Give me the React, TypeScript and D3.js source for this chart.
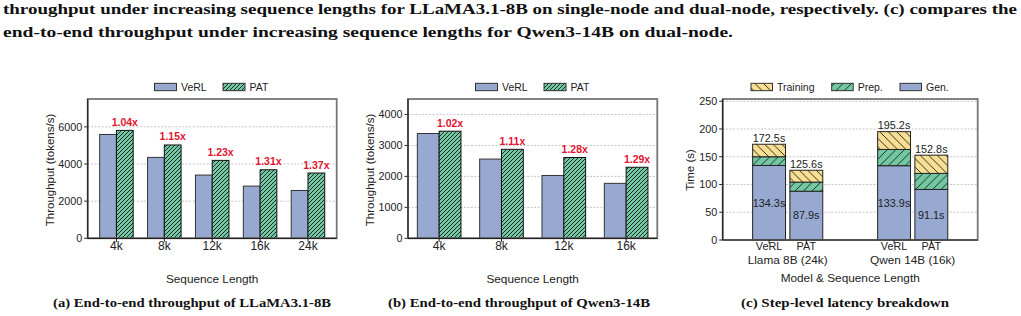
import React, { useEffect, useRef } from "react";
import * as d3 from "d3";

// panel (a): LLaMA3.1-8B, single node
const seqA = ["4k", "8k", "12k", "16k", "24k"];
const verlA = [5590, 4355, 3405, 2810, 2575];
const patA = [5810, 5025, 4195, 3690, 3515];
const speedupA = ["1.04x", "1.15x", "1.23x", "1.31x", "1.37x"];
const yTicksA = [0, 2000, 4000, 6000];

// panel (b): Qwen3-14B, dual node
const seqB = ["4k", "8k", "12k", "16k"];
const verlB = [3385, 2560, 2030, 1775];
const patB = [3460, 2875, 2610, 2295];
const speedupB = ["1.02x", "1.11x", "1.28x", "1.29x"];
const yTicksB = [0, 1000, 2000, 3000, 4000];

// panel (c): step-level latency breakdown
const systemsC = ["VeRL", "PAT", "VeRL", "PAT"];
const modelsC = ["Llama 8B (24k)", "Qwen 14B (16k)"];
const genC = [134.3, 87.9, 133.9, 91.1];
const prepC = [15.7, 16.4, 29.2, 28.9];
const trainC = [22.5, 21.3, 32.1, 32.8];
const totalC = [172.5, 125.6, 195.2, 152.8];
const yTicksC = [0, 50, 100, 150, 200, 250];

const captionLines = [
  "throughput under increasing sequence lengths for LLaMA3.1-8B on single-node and dual-node, respectively. (c) compares the",
  "end-to-end throughput under increasing sequence lengths for Qwen3-14B on dual-node.",
];
const subCaptions = [
  "(a) End-to-end throughput of LLaMA3.1-8B",
  "(b) End-to-end throughput of Qwen3-14B",
  "(c) Step-level latency breakdown",
];

const BLUE = "#97a9d1";
const GREEN = "#72c8a2";
const YELLOW = "#f9df93";
const RED = "#e3132f";
const INK = "#222";
const SANS = "'Liberation Sans', Arial, sans-serif";
const SERIF = "'Liberation Serif', 'DejaVu Serif', serif";

type Sel = d3.Selection<SVGGElement, unknown, null, undefined>;

function frame(g: Sel, x0: number, x1: number, y0: number, y1: number) {
  g.append("rect")
    .attr("x", x0)
    .attr("y", y0)
    .attr("width", x1 - x0)
    .attr("height", y1 - y0)
    .attr("fill", "none")
    .attr("stroke", "#777")
    .attr("stroke-width", 1.8);
  g.append("line").attr("x1", x0).attr("x2", x0).attr("y1", y0).attr("y2", y1)
    .attr("stroke", INK).attr("stroke-width", 1.2);
  g.append("line").attr("x1", x0).attr("x2", x1).attr("y1", y1).attr("y2", y1)
    .attr("stroke", INK).attr("stroke-width", 1.2);
}

function yAxis(
  g: Sel,
  y: d3.ScaleLinear<number, number>,
  ticks: number[],
  x0: number,
  x1: number
) {
  ticks.forEach((t) => {
    if (t > 0) {
      g.append("line")
        .attr("x1", x0).attr("x2", x1)
        .attr("y1", y(t)).attr("y2", y(t))
        .attr("stroke", "#b5b5b5")
        .attr("stroke-width", 0.8)
        .attr("stroke-dasharray", "2,1.5");
    }
    g.append("line")
      .attr("x1", x0 - 3.5).attr("x2", x0)
      .attr("y1", y(t)).attr("y2", y(t))
      .attr("stroke", INK);
    g.append("text")
      .attr("x", x0 - 5.5)
      .attr("y", y(t) + 3.8)
      .attr("text-anchor", "end")
      .attr("font-size", 10.8)
      .attr("fill", INK)
      .text(t);
  });
}

function yTitle(g: Sel, x: number, yc: number, label: string) {
  g.append("text")
    .attr("transform", `translate(${x},${yc}) rotate(-90)`)
    .attr("text-anchor", "middle")
    .attr("dy", "0.35em")
    .attr("font-size", 11.5)
    .attr("fill", INK)
    .text(label);
}

function legend(g: Sel, items: { x: number; w: number; fill: string; label: string }[]) {
  items.forEach((it) => {
    g.append("rect")
      .attr("x", it.x).attr("y", 83.3)
      .attr("width", it.w).attr("height", 7.4)
      .attr("fill", it.fill)
      .attr("stroke", INK)
      .attr("stroke-width", 0.9);
    g.append("text")
      .attr("x", it.x + it.w + 4.5)
      .attr("y", 90.8)
      .attr("font-size", 10.5)
      .attr("fill", INK)
      .text(it.label);
  });
}

function groupedPanel(
  g: Sel,
  cats: string[],
  verl: number[],
  pat: number[],
  speedup: string[],
  ticks: number[],
  yMax: number,
  xr: [number, number],
  pad: number,
  titleX: number,
  legendX: [number, number]
) {
  const top = 99;
  const bottom = 238.3;
  const x = d3.scaleLinear().domain([-pad, cats.length - 1 + pad]).range(xr);
  const y = d3.scaleLinear().domain([0, yMax]).range([bottom, top]);
  const bw = 0.35;
  const px = (v: number) => x(v) - x(0);

  yAxis(g, y, ticks, xr[0], xr[1]);

  g.selectAll(null)
    .data(verl)
    .enter()
    .append("rect")
    .attr("x", (_, i) => x(i - bw))
    .attr("y", (d) => y(d))
    .attr("width", px(bw))
    .attr("height", (d) => bottom - y(d))
    .attr("fill", BLUE)
    .attr("stroke", "#333")
    .attr("stroke-width", 1);

  g.selectAll(null)
    .data(pat)
    .enter()
    .append("rect")
    .attr("x", (_, i) => x(i))
    .attr("y", (d) => y(d))
    .attr("width", px(bw))
    .attr("height", (d) => bottom - y(d))
    .attr("fill", "url(#hatchPat)")
    .attr("stroke", "#111")
    .attr("stroke-width", 1);

  g.selectAll(null)
    .data(pat)
    .enter()
    .append("text")
    .attr("x", (_, i) => x(i + bw / 2))
    .attr("y", (d) => y(d) - 4.5)
    .attr("text-anchor", "middle")
    .attr("font-size", 10.5)
    .attr("font-weight", "bold")
    .attr("fill", RED)
    .text((_, i) => speedup[i]);

  frame(g, xr[0], xr[1], top, bottom);

  cats.forEach((c, i) => {
    g.append("line")
      .attr("x1", x(i)).attr("x2", x(i))
      .attr("y1", bottom).attr("y2", bottom + 3.5)
      .attr("stroke", INK);
    g.append("text")
      .attr("x", x(i))
      .attr("y", 250)
      .attr("text-anchor", "middle")
      .attr("font-size", 12)
      .attr("fill", INK)
      .text(c);
  });

  g.append("text")
    .attr("x", (xr[0] + xr[1]) / 2)
    .attr("y", 282.5)
    .attr("text-anchor", "middle")
    .attr("font-size", 11.8)
    .attr("fill", INK)
    .text("Sequence Length");

  yTitle(g, titleX, 170, "Throughput (tokens/s)");

  legend(g, [
    { x: legendX[0], w: 22, fill: BLUE, label: "VeRL" },
    { x: legendX[1], w: 22, fill: "url(#hatchPat)", label: "PAT" },
  ]);
}

function stackedPanel(g: Sel) {
  const top = 99;
  const bottom = 240;
  const xr: [number, number] = [722.7, 977.7];
  const x = d3.scaleLinear().domain([-0.52, 1.52]).range(xr);
  const y = d3.scaleLinear().domain([0, 254]).range([bottom, top]);
  const centers = [-0.149, 0.149, 0.851, 1.149];
  const bw = 0.263;
  const px = (v: number) => x(v) - x(0);

  yAxis(g, y, yTicksC, xr[0], xr[1]);

  const segs = [
    { vals: genC, base: genC.map(() => 0), fill: BLUE },
    { vals: prepC, base: genC, fill: "url(#hatchPrep)" },
    { vals: trainC, base: genC.map((v, i) => v + prepC[i]), fill: "url(#hatchTrain)" },
  ];
  segs.forEach((s) => {
    g.selectAll(null)
      .data(s.vals)
      .enter()
      .append("rect")
      .attr("x", (_, i) => x(centers[i] - bw / 2))
      .attr("y", (d, i) => y(s.base[i] + d))
      .attr("width", px(bw))
      .attr("height", (d, i) => y(s.base[i]) - y(s.base[i] + d))
      .attr("fill", s.fill)
      .attr("stroke", INK)
      .attr("stroke-width", 1);
  });

  g.selectAll(null)
    .data(totalC)
    .enter()
    .append("text")
    .attr("x", (_, i) => x(centers[i]))
    .attr("y", (d) => y(d) - 2.5)
    .attr("text-anchor", "middle")
    .attr("font-size", 10.8)
    .attr("fill", INK)
    .text((d) => `${d.toFixed(1)}s`);

  g.selectAll(null)
    .data(genC)
    .enter()
    .append("text")
    .attr("x", (_, i) => x(centers[i]))
    .attr("y", (d) => y(d / 2) + 3.8)
    .attr("text-anchor", "middle")
    .attr("font-size", 10.8)
    .attr("fill", INK)
    .text((d) => `${d.toFixed(1)}s`);

  frame(g, xr[0], xr[1], top, bottom);

  systemsC.forEach((s, i) => {
    g.append("line")
      .attr("x1", x(centers[i])).attr("x2", x(centers[i]))
      .attr("y1", bottom).attr("y2", bottom + 3.5)
      .attr("stroke", INK);
    g.append("text")
      .attr("x", x(centers[i]))
      .attr("y", 249.7)
      .attr("text-anchor", "middle")
      .attr("font-size", 10.8)
      .attr("fill", INK)
      .text(s);
  });
  modelsC.forEach((m, i) => {
    g.append("text")
      .attr("x", x(i))
      .attr("y", 263.5)
      .attr("text-anchor", "middle")
      .attr("font-size", 11.8)
      .attr("fill", INK)
      .text(m);
  });

  g.append("text")
    .attr("x", (xr[0] + xr[1]) / 2)
    .attr("y", 281.5)
    .attr("text-anchor", "middle")
    .attr("font-size", 11.8)
    .attr("fill", INK)
    .text("Model & Sequence Length");

  yTitle(g, 690, 170, "Time (s)");

  legend(g, [
    { x: 751, w: 21.5, fill: "url(#hatchTrain)", label: "Training" },
    { x: 831.7, w: 21.5, fill: "url(#hatchPrep)", label: "Prep." },
    { x: 900, w: 21.5, fill: BLUE, label: "Gen." },
  ]);
}

const App: React.FC = () => {
  const ref = useRef<SVGSVGElement>(null);

  useEffect(() => {
    if (!ref.current) return;
    const svg = d3.select(ref.current);
    svg.selectAll("*").remove();

    // hatch patterns
    const defs = svg.append("defs");
    const hatch = (id: string, bg: string, s: number, forward: boolean, sw: number) => {
      const p = defs
        .append("pattern")
        .attr("id", id)
        .attr("patternUnits", "userSpaceOnUse")
        .attr("width", s)
        .attr("height", s);
      p.append("rect").attr("width", s).attr("height", s).attr("fill", bg);
      const d = forward
        ? `M0,${s} L${s},0 M${-s / 2},${s / 2} L${s / 2},${-s / 2} M${s / 2},${s * 1.5} L${s * 1.5},${s / 2}`
        : `M0,0 L${s},${s} M${-s / 2},${s / 2} L${s / 2},${s * 1.5} M${s / 2},${-s / 2} L${s * 1.5},${s / 2}`;
      p.append("path").attr("d", d).attr("stroke", "#1a1a1a").attr("stroke-width", sw);
    };
    hatch("hatchPat", GREEN, 4, true, 0.9);
    hatch("hatchPrep", GREEN, 8.5, true, 0.9);
    hatch("hatchTrain", YELLOW, 8.5, false, 0.9);

    svg.append("rect").attr("width", 1021).attr("height", 316).attr("fill", "#fff");

    // caption text above
    const cap = svg.append("g").attr("font-family", SERIF).attr("font-weight", "bold").attr("fill", "#111");
    cap.append("text").attr("x", 3).attr("y", 13.5).attr("font-size", 15)
      .attr("textLength", 1014).attr("lengthAdjust", "spacingAndGlyphs").text(captionLines[0]);
    cap.append("text").attr("x", 3).attr("y", 36.5).attr("font-size", 15)
      .attr("textLength", 730).attr("lengthAdjust", "spacingAndGlyphs").text(captionLines[1]);

    const charts = svg.append("g").attr("font-family", SANS) as unknown as Sel;
    groupedPanel(
      charts.append("g") as unknown as Sel,
      seqA, verlA, patA, speedupA, yTicksA, 7500,
      [87.7, 336.7], 0.6, 50, [154.5, 223]
    );
    groupedPanel(
      charts.append("g") as unknown as Sel,
      seqB, verlB, patB, speedupB, yTicksB, 4500,
      [408, 657.3], 0.5, 370, [475.5, 544]
    );
    stackedPanel(charts.append("g") as unknown as Sel);

    // sub-captions
    const sub = svg.append("g").attr("font-family", SERIF).attr("font-weight", "bold")
      .attr("fill", "#111").attr("font-size", 13);
    const subX = [53, 388, 741];
    const subW = [278, 262, 208];
    subCaptions.forEach((s, i) => {
      sub.append("text")
        .attr("x", subX[i])
        .attr("y", 307)
        .attr("textLength", subW[i])
        .attr("lengthAdjust", "spacingAndGlyphs")
        .text(s);
    });
  }, []);

  return (
    <svg
      ref={ref}
      width={1021}
      height={316}
      style={{ position: "absolute", left: 0, top: 0, display: "block" }}
    />
  );
};

export default App;
